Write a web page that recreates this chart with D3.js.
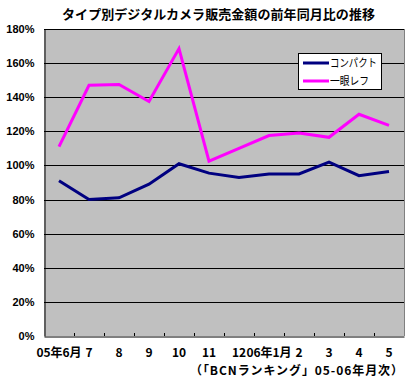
<!DOCTYPE html>
<html><head><meta charset="utf-8">
<script src="https://cdn.jsdelivr.net/npm/d3@7"></script>
<style>body{margin:0;background:#fff}svg{display:block}</style>
</head><body>
<svg id="c" width="411" height="383"></svg>
<script>
const categories = ["05年6月","7","8","9","10","11","12","06年1月","2","3","4","5"];
const compact = [91, 80, 81, 89, 101, 95.5, 93, 95, 95, 102, 94, 96.5];
const slr = [111, 147, 147.5, 137.5, 168.5, 102.5, 110, 117.5, 119, 116.5, 130, 123.5];
const yTicks = [0,20,40,60,80,100,120,140,160,180];
const seriesNames = ["コンパクト","一眼レフ"];
const seriesColors = ["#000080","#FF00FF"];

const svg = d3.select("#c");
const L=44, R=404, T=29, B=336;
const x = d3.scaleBand().domain(categories).range([L,R]);
const y = d3.scaleLinear().domain([0,180]).range([B,T]);
const jp = "'Noto Sans CJK JP', sans-serif";

svg.append("rect").attr("x",L).attr("y",T).attr("width",R-L).attr("height",B-T).attr("fill","#C0C0C0");
// gridlines
svg.append("g").selectAll("line").data(yTicks.filter(d=>d>0)).join("line")
  .attr("x1",L).attr("x2",R).attr("y1",d=>Math.round(y(d))+0.5).attr("y2",d=>Math.round(y(d))+0.5)
  .attr("stroke","#000").attr("stroke-width",1);
// right border
svg.append("line").attr("x1",R+0.5).attr("x2",R+0.5).attr("y1",T).attr("y2",B).attr("stroke","#808080");
// y axis
const yAxis = svg.append("g").attr("transform",`translate(${L+0.5},0)`)
  .call(d3.axisLeft(y).tickValues(yTicks).tickSize(0).tickPadding(10).tickFormat(d=>d+"%"));
yAxis.select(".domain").attr("stroke","#000");
yAxis.selectAll("text").attr("font-family","'Liberation Sans', Arial, sans-serif").attr("font-weight","bold").attr("font-size","11px").attr("fill","#000");
// x axis
const xAxis = svg.append("g").attr("transform",`translate(0,${B+0.5})`)
  .call(d3.axisBottom(x).tickSize(0).tickPadding(12));
xAxis.select(".domain").attr("stroke","#000");
xAxis.selectAll("text").attr("font-family",jp).attr("font-weight","bold").attr("font-size","12px").attr("fill","#000");
// inner ticks at band boundaries
svg.append("g").selectAll("line").data(categories.slice(1)).join("line")
  .attr("x1",d=>Math.round(x(d))+0.5).attr("x2",d=>Math.round(x(d))+0.5)
  .attr("y1",B).attr("y2",B-3).attr("stroke","#000");

const line = d3.line().x((d,i)=>x(categories[i])+x.bandwidth()/2).y(d=>y(d));
[compact, slr].forEach((s,k)=>{
  svg.append("path").attr("d",line(s)).attr("fill","none").attr("stroke",seriesColors[k]).attr("stroke-width",3).attr("stroke-linejoin","miter");
});

// legend
const lg = svg.append("g");
lg.append("rect").attr("x",298.5).attr("y",53.5).attr("width",83).attr("height",36).attr("fill","#fff").attr("stroke","#000");
seriesNames.forEach((n,i)=>{
  const yy = 63 + i*18;
  lg.append("line").attr("x1",303).attr("x2",329).attr("y1",yy).attr("y2",yy).attr("stroke",seriesColors[i]).attr("stroke-width",3);
  lg.append("text").attr("x",330).attr("y",yy).attr("dy","0.36em").attr("font-family",jp).attr("font-size","11px").attr("fill","#000")
    .attr("textLength", i===0 ? 47 : 39).attr("lengthAdjust","spacingAndGlyphs").text(n);
});

// title
svg.append("text").attr("x",62).attr("y",14).attr("dy","0.36em").attr("textLength",313).attr("lengthAdjust","spacing")
  .attr("font-family",jp).attr("font-weight","bold").attr("font-size","13px").attr("fill","#000")
  .text("タイプ別デジタルカメラ販売金額の前年同月比の推移");
// source
svg.append("text").attr("x",190).attr("y",371).attr("dy","0.36em").attr("textLength",213).attr("lengthAdjust","spacing")
  .attr("font-family",jp).attr("font-weight","bold").attr("font-size","12px").attr("fill","#000")
  .text("（「BCNランキング」05-06年月次）");
</script>
</body></html>
